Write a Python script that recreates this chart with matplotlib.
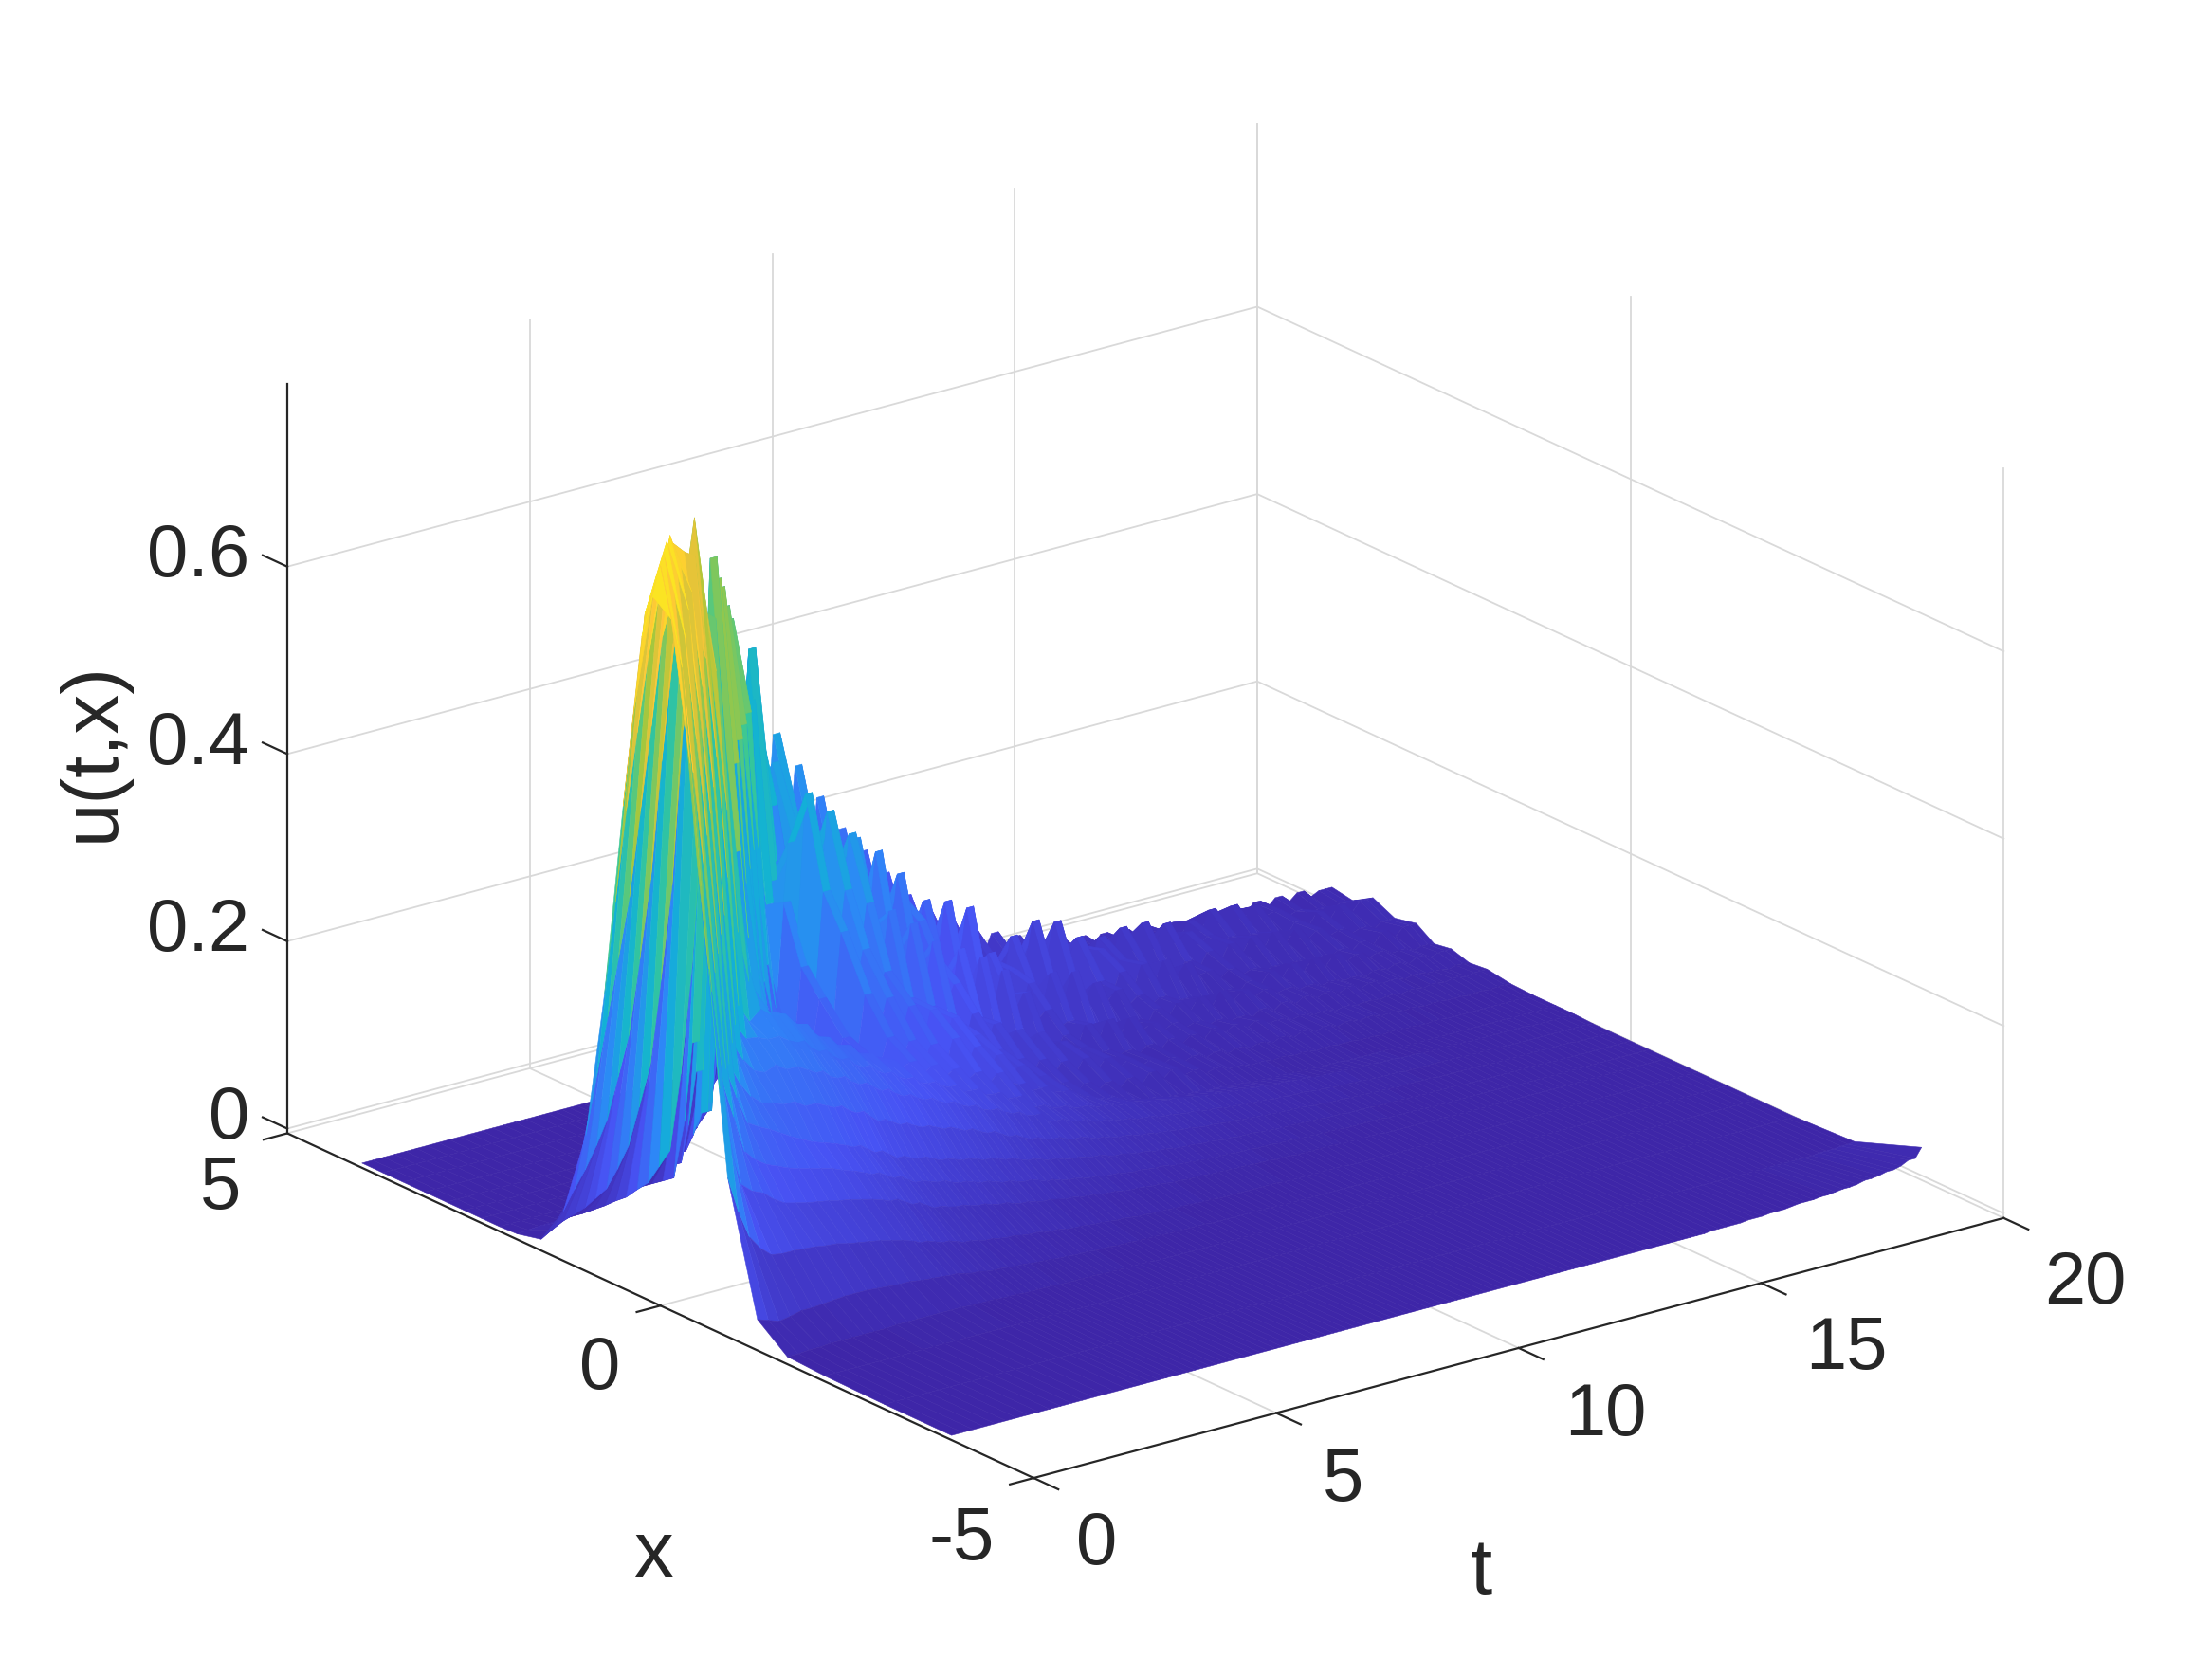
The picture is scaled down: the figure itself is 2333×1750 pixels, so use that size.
import numpy as np
import matplotlib
matplotlib.use('Agg')
import matplotlib.pyplot as plt
from matplotlib.colors import LinearSegmentedColormap
from mpl_toolkits.mplot3d import proj3d

plt.rcParams['font.family'] = ['Liberation Sans', 'DejaVu Sans']

# sample positions: one crest and one trough per rib
t_vals = np.append(0.225*np.arange(89), 20.0)
x_vals = [-3.9, -3, -2.2, -1.7, -1.3, -0.9, -0.5, -0.25, 0, 0.25, 0.5, 0.75, 1, 1.3,
          1.6, 1.92, 2.16, 2.4, 2.63, 2.87, 3.16, 3.45, 3.72, 4]

# u(t,x) in thousandths, one row per t; a row stops where the rest of it is flat
u_rows = [
[0,0,1,3,28,165,480,700,785,700,510,300,140,48,7,1],
[0,0,1,3,24,125,370,580,725,740,610,395,200,68,14,2],
[0,0,1,4,20,95,239,446,670,782,709,490,260,86,20,3],
[0,0,1,4,22,80,170,330,555,735,745,570,320,108,24,3],
[0,0,1,5,25,70,130,230,449,686,780,647,382,133,28,3],
[0,0,1,5,25,68,120,190,335,575,740,710,470,175,35,4],
[0,0,1,5,26,68,115,150,229,469,701,771,558,217,42,4],
[0,0,1,5,27,67,105,138,195,340,590,735,650,295,60,5],
[0,0,1,5,28,66,98,130,165,219,477,705,747,377,81,6],
[0,0,1,5,28,64,95,125,158,195,345,600,735,500,120,8],
[0,0,1,6,28,63,92,120,152,178,226,490,727,620,161,9],
[0,0,1,6,27,60,90,116,145,168,205,350,615,670,250,14,1],
[0,0,1,6,26,58,88,113,138,165,190,230,506,751,347,18,1],
[0,0,1,6,25,56,85,110,132,160,185,212,375,660,510,32,2],
[0,0,1,6,25,54,83,107,126,160,190,210,235,581,698,46,2],
[0,0,1,6,23,51,80,102,122,152,182,205,215,430,630,125,2],
[0,0,1,6,22,48,77,98,118,152,182,205,225,296,620,234,2],
[0,0,1,5,21,44,73,93,113,146,175,197,215,240,470,420,60,1],
[0,0,1,5,20,40,70,89,109,142,170,193,212,205,365,667,141,2],
[0,0,1,5,18,37,65,84,103,135,162,183,202,190,270,540,340,40],
[0,0,1,4,16,34,60,79,97,130,158,177,195,185,190,441,629,95],
[0,0,1,4,14,31,55,73,91,122,150,168,183,172,170,310,540,300,15],
[0,0,1,3,13,28,50,68,85,115,145,162,175,165,165,178,451,605,36],
[0,0,0,3,12,26,47,65,81,110,138,153,165,155,150,160,310,520,260,8],
[0,0,0,3,11,24,45,62,78,105,132,148,160,150,145,148,186,452,570,31],
[0,0,0,2,10,22,42,58,74,100,125,140,150,140,130,128,150,315,490,230,5],
[0,0,0,2,9,21,40,55,70,96,120,135,145,135,125,135,125,189,450,541,5],
[0,0,0,2,8,19,37,52,67,92,114,127,135,125,115,115,105,140,300,470,190,2],
[0,0,0,2,7,18,35,49,64,88,110,123,132,125,135,165,190,250,240,448,254,1],
[0,0,0,1,6,16,32,46,61,84,104,115,122,112,115,140,160,215,200,290,350,60],
[0,0,0,1,6,15,30,43,58,80,100,112,125,140,175,230,265,360,300,250,485,75],
[0,0,0,1,5,13,28,40,55,75,94,105,110,115,135,165,190,240,205,170,340,240,10],
[0,0,0,1,5,12,26,38,52,71,90,102,115,130,165,205,260,335,270,215,253,470,20],
[0,0,0,1,4,11,24,35,48,66,83,93,100,105,120,150,180,215,180,145,160,340,180,5],
[0,0,0,0,4,10,22,32,45,61,80,92,105,120,150,175,240,305,250,190,165,296,387,4],
[0,0,0,0,3,9,20,29,42,56,74,83,90,92,105,125,160,190,155,125,105,190,310,85],
[0,0,0,0,3,8,19,27,39,52,70,82,95,120,140,140,225,200,285,185,150,258,326,216],
[0,0,0,0,3,7,17,25,36,48,64,73,80,88,100,100,145,135,175,125,100,160,190,220],
[0,0,0,0,2,6,16,23,34,46,62,72,88,105,125,125,205,165,265,180,150,228,250,340],
[0,0,0,0,2,5,14,21,32,42,52,57,75,75,85,85,130,110,160,115,95,135,135,200],
[0,0,0,0,2,5,13,20,30,40,50,56,70,90,100,105,180,145,235,170,145,165,200,300],
[0,0,0,0,2,4,12,18,27,37,46,51,60,60,70,72,110,90,140,100,85,100,115,170],
[0,0,0,0,1,4,11,17,25,34,43,49,60,72,78,105,128,142,178,190,120,130,160,260],
[0,0,0,0,1,3,10,16,23,31,39,44,52,50,52,68,78,85,108,112,75,80,95,150],
[0,0,0,0,1,3,9,15,21,29,37,43,50,55,62,88,85,150,110,185,110,110,130,220],
[0,0,0,0,1,2,8,13,19,27,34,39,44,38,42,56,55,90,70,110,68,68,78,130],
[0,0,0,0,1,2,8,12,18,25,32,38,38,42,55,75,58,135,82,178,100,90,110,190],
[0,0,0,0,1,2,7,11,16,23,29,34,33,28,36,50,38,82,52,106,60,55,66,110],
[0,0,0,0,0,2,7,10,15,22,28,34,30,35,47,66,45,115,70,165,82,80,95,160],
[0,0,0,0,0,2,6,9,14,20,25,31,26,24,31,42,29,70,44,98,52,50,56,95],
[0,0,0,0,0,2,6,9,13,19,24,30,22,30,44,50,40,85,75,110,75,70,80,130],
[0,0,0,0,0,1,5,8,12,17,22,27,19,20,29,33,26,53,48,68,48,44,48,80],
[0,0,0,0,0,1,5,8,11,16,21,26,18,28,38,38,42,60,80,85,85,62,70,105],
[0,0,0,0,0,1,4,7,10,15,19,24,15,18,25,25,27,38,50,55,55,40,42,65],
[0,0,0,0,0,1,4,7,10,14,18,22,14,28,30,28,47,42,85,55,105,55,60,90],
[0,0,0,0,0,1,3,6,9,13,16,20,12,18,20,18,30,27,52,35,65,34,36,55],
[0,0,0,0,0,1,3,6,8,12,15,19,12,25,24,22,46,32,80,40,115,50,52,75],
[0,0,0,0,0,0,3,5,7,11,14,17,10,16,16,15,28,22,50,27,70,32,32,46],
[0,0,0,0,0,0,3,5,7,10,13,16,10,18,20,22,42,27,62,38,108,50,45,65],
[0,0,0,0,0,0,2,4,6,9,12,15,8,12,13,14,26,18,40,26,65,30,27,40],
[0,0,0,0,0,0,2,4,6,9,11,14,8,14,16,22,30,24,48,48,85,50,40,55],
[0,0,0,0,0,0,2,3,5,8,10,12,6,10,11,14,20,16,30,30,52,32,25,34],
[0,0,0,0,0,0,2,3,5,7,10,12,6,10,14,20,24,30,36,52,65,58,35,47],
[0,0,0,0,0,0,1,3,4,6,9,11,5,7,9,13,16,19,23,32,40,36,22,30],
[0,0,0,0,0,0,1,3,4,6,8,10,5,8,12,21,19,30,28,54,48,62,32,40],
[0,0,0,0,0,0,1,2,4,5,7,8,4,6,8,14,12,19,18,34,30,38,20,26],
[0,0,0,0,0,0,1,2,3,5,6,8,4,7,11,19,15,30,20,52,36,66,33,36],
[0,0,0,0,0,0,1,2,3,4,6,7,3,5,7,13,10,18,14,32,24,40,20,23],
[0,0,0,0,0,0,1,2,3,4,5,7,3,6,11,17,12,30,16,42,25,65,34,33],
[0,0,0,0,0,0,0,1,2,3,4,6,3,4,7,11,8,18,11,27,17,40,20,21],
[1,0,0,0,0,0,0,1,2,3,4,6,2,5,11,12,14,25,17,28,28,58,24,30],
[1,0,0,0,0,0,0,1,2,3,4,5,2,4,7,8,9,16,11,18,18,36,15,19],
[1,0,0,0,0,0,0,1,2,3,3,5,2,4,10,10,15,20,20,24,32,42,30,27],
[2,0,0,0,0,0,0,1,2,2,3,4,2,3,6,7,10,13,13,15,20,26,19,17],
[2,0,0,0,0,0,0,1,1,2,3,4,2,3,9,8,15,15,24,18,34,32,38,25],
[3,0,0,0,0,0,0,1,1,2,3,3,1,2,6,5,10,10,15,12,22,20,24,16],
[3,0,0,0,0,0,0,1,1,2,3,3,1,3,8,7,14,12,26,15,35,25,44,23],
[4,0,0,0,0,0,0,0,1,2,2,3,1,2,5,5,9,8,16,10,22,16,27,15],
[5,0,0,0,0,0,0,0,1,1,2,3,1,2,6,6,13,10,25,14,34,22,42,22],
[5,0,0,0,0,0,0,0,1,1,2,2,1,1,4,4,8,7,15,9,21,14,26,14],
[6,0,0,0,0,0,0,0,1,1,2,2,1,2,5,6,11,8,24,12,30,17,35,20],
[7,0,0,0,0,0,0,0,1,1,1,2,1,1,3,4,7,5,14,8,18,11,22,13],
[8,0,0,0,0,0,0,0,0,1,1,2,1,1,4,6,8,9,18,14,24,22,24,23],
[9,0,0,0,0,0,0,0,0,1,1,2,1,1,3,4,5,6,11,9,15,14,15,14],
[11,0,0,0,0,0,0,0,0,1,1,2,1,1,3,6,7,10,14,16,18,26,18,22],
[12,0,0,0,0,0,0,0,0,1,1,1,0,1,2,4,5,6,9,10,11,16,11,14],
[14,1,0,0,0,0,0,0,0,0,1,1,1,1,3,6,5,11,10,20,14,27,14,21],
[16,1,0,0,0,0,0,0,0,0,1,1,0,1,2,4,3,7,6,12,9,17,9,13],
[20,2,0,0,0,0,0,0,0,0,1,1,1,1,3,6,5,10,8,20,15,26,14,17],
[30,3,0,0,0,0,0,0,0,0,0,1,1,1,2,6,4,10,7,20,15,26,13,17],
]

t_ticks = [0, 5, 10, 15, 20]
x_ticks = [-5, 0, 5]
z_ticks = [0, 0.2, 0.4, 0.6]
t_lim = (0, 20)
x_lim = (-5, 5)
z_lim = (-0.005, 0.795)

parula = LinearSegmentedColormap.from_list('parula', [
    (0.2422, 0.1504, 0.6603), (0.2810, 0.3228, 0.9579), (0.1786, 0.5289, 0.9682),
    (0.0689, 0.6948, 0.8394), (0.2161, 0.7843, 0.5923), (0.6720, 0.7793, 0.2227),
    (0.9970, 0.7659, 0.2199), (0.9769, 0.9839, 0.0805)], N=256)

grid_c = '#d9d9d9'
axis_c = '#262626'
grid = dict(color=grid_c, lw=1.3, clip_on=False)
line = dict(color=axis_c, lw=1.6, clip_on=False)

fig = plt.figure(figsize=(23.33, 17.5), dpi=100)
ax = fig.add_axes([18/2333, 6.4/1750, 1, 1], projection='3d', proj_type='ortho')
ax.set_box_aspect((0.99, 1, 0.65), zoom=1.117)
ax.view_init(elev=20.6, azim=-127.3)
ax.set_xlim(*t_lim, view_margin=0)
ax.set_ylim(*x_lim, view_margin=0)
ax.set_zlim(*z_lim, view_margin=0)
ax.set_axis_off()

# walls and floor grid
z0 = z_lim[0]
for t in t_ticks[1:]:
    ax.plot([t, t], [5, 5], z_lim, **grid)
    ax.plot([t, t], [-5, 5], [z0, z0], **grid)
for x in x_ticks:
    ax.plot([20, 20], [x, x], z_lim, **grid)
ax.plot([0, 20], [0, 0], [z0, z0], **grid)
ax.plot([0, 20], [5, 5], [z0, z0], **grid)
for z in z_ticks:
    ax.plot([0, 20], [5, 5], [z, z], **grid)
    ax.plot([20, 20], [-5, 5], [z, z], **grid)

# the three axis lines and their ticks
ax.plot([0, 20], [-5, -5], [z0, z0], **line)
ax.plot([0, 0], [-5, 5], [z0, z0], **line)
ax.plot([0, 0], [5, 5], z_lim, **line)
for t in t_ticks:
    ax.plot([t, t], [-5, -5.33], [z0, z0], **line)
for x in x_ticks:
    ax.plot([0, -0.49], [x, x], [z0, z0], **line)
for z in z_ticks:
    ax.plot([0, 0], [5, 5.33], [z, z], **line)

# past t=4 each crest row is held over a short stretch of t so the ribs have round-ish tops
row_t, row_u = [], []
for i, (t, row) in enumerate(zip(t_vals, u_rows)):
    row = row + [0]*(len(x_vals) - len(row))
    if i % 2 == 0 and 18 <= i < len(u_rows) - 1:
        row_t += [t - 0.07, t + 0.07]
        row_u += [row, row]
    else:
        row_t.append(t)
        row_u.append(row)

T, X = np.meshgrid(row_t, x_vals, indexing='ij')
U = np.array(row_u) / 1000
surf = ax.plot_surface(T, X, U, cmap=parula, vmin=0, vmax=0.785, rcount=300, ccount=100,
                       shade=False, linewidth=0, antialiased=True, clip_on=False)
surf.set_edgecolor('face')
surf.set_linewidth(0.4)


def label(text, t, x, z, dx, dy, ha='center', rotation=0, size=56):
    px, py, _ = proj3d.proj_transform(t, x, z, ax.get_proj())
    ax.annotate(text, (px, py), xytext=(dx, dy), textcoords='offset pixels', ha=ha,
                va='center', color=axis_c, fontsize=size, rotation=rotation,
                annotation_clip=False)


for t, dx, dy in zip(t_ticks, [66, 71, 92, 90, 86], [-70, -72, -72, -70, -70]):
    label(str(t), t, -5, z0, dx, dy)
for x, dx, dy in zip(x_ticks, [-76, -64, -70], [-65, -67, -59]):
    label(str(x), 0, x, z0, dx, dy)
for z in z_ticks:
    label(str(z) if z else '0', 0, 5, z, -40, 10, ha='right')
label('t', 10, -5, z0, -39, -237, size=60)
label('x', 0, 0, z0, -8, -264, size=60)
label('u(t,x)', 0, 5, 0.39, -205, 12, rotation=90, size=60)

fig.savefig('out.png', dpi=100)
